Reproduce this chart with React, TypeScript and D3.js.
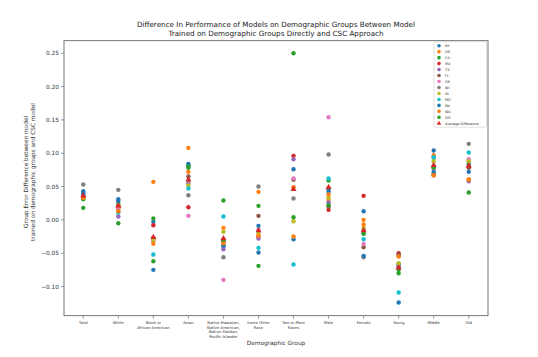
import React from "react";
import * as d3 from "d3";

const categories = [
  "Total", "White", "Black or\nAfrican American", "Asian",
  "Native Hawaiian,\nNative American,\nNative Alaskan,\nPacific Islander",
  "Some Other\nRace", "Two or More\nRaces", "Male", "Female", "Young", "Middle", "Old",
];

const seriesNames = ["NY", "OR", "CA", "MA", "TX", "FL", "OK", "WI", "IN", "MD", "NV", "WA", "OH"];
const seriesColors = ["#1f77b4", "#ff7f0e", "#2ca02c", "#d62728", "#9467bd", "#8c564b", "#e377c2", "#7f7f7f", "#bcbd22", "#17becf", "#1f77b4", "#ff7f0e", "#2ca02c"];

const NY = [0.043, 0.031, -0.003, 0.084, -0.040, -0.009, 0.076, 0.045, 0.013, -0.066, 0.104, 0.083];
const OR = [0.034, 0.016, 0.057, 0.108, -0.012, 0.042, 0.049, 0.030, 0.000, -0.054, 0.097, 0.061];
const CA = [0.031, 0.023, 0.002, 0.078, 0.029, 0.021, 0.250, 0.059, -0.021, -0.080, 0.077, 0.087];
const MA = [0.033, 0.019, -0.008, 0.019, -0.030, -0.025, 0.096, 0.015, 0.036, -0.050, 0.067, 0.079];
const TX = [0.038, 0.005, -0.030, 0.055, -0.044, -0.028, 0.091, 0.026, -0.015, -0.068, 0.080, 0.058];
const FL = [0.035, 0.020, -0.027, 0.065, -0.032, 0.006, 0.060, 0.020, -0.041, -0.052, 0.069, 0.078];
const OK = [0.036, 0.018, -0.033, 0.006, -0.090, -0.015, 0.062, 0.154, -0.036, -0.072, 0.078, 0.091];
const WI = [0.053, 0.045, -0.028, 0.037, -0.056, 0.050, 0.032, 0.098, -0.056, -0.070, 0.093, 0.114];
const IN = [0.033, 0.022, -0.030, 0.052, -0.018, -0.020, -0.002, 0.033, -0.012, -0.065, 0.088, 0.088];
const MD = [0.035, 0.011, -0.052, 0.047, 0.005, -0.042, -0.067, 0.062, -0.029, -0.109, 0.094, 0.101];
const NV = [0.040, 0.028, -0.075, 0.082, -0.038, -0.049, -0.029, 0.042, -0.054, -0.124, 0.072, 0.072];
const WA = [0.034, 0.013, -0.036, 0.072, -0.035, -0.024, -0.025, 0.038, -0.007, -0.055, 0.067, 0.060];
const OH = [0.018, -0.005, -0.062, 0.080, -0.030, -0.069, 0.004, 0.022, -0.020, -0.075, 0.079, 0.041];
const averageDifference = [0.036, 0.021, -0.026, 0.060, -0.028, -0.016, 0.046, 0.049, -0.016, -0.072, 0.082, 0.081];

const seriesValues = [NY, OR, CA, MA, TX, FL, OK, WI, IN, MD, NV, WA, OH];
const yTicks = [-0.10, -0.05, 0.0, 0.05, 0.10, 0.15, 0.20, 0.25];

const W = 538, H = 357;
const M = { left: 64, right: 488, top: 40.7, bottom: 315.7 };
const FONT = "DejaVu Sans, sans-serif";

export default function App() {
  const x = d3.scaleLinear().domain([-0.55, 11.55]).range([M.left, M.right]);
  const y = d3.scaleLinear().domain([-0.14375, 0.26875]).range([M.bottom, M.top]);
  const r = 2.2;
  const tri = d3.symbol().type(d3.symbolTriangle).size(16)();
  const triSmall = d3.symbol().type(d3.symbolTriangle).size(9)();
  const fmt = d3.format(".2f");
  const legendRows = [...seriesNames.map((n, i) => ({ n, c: seriesColors[i], t: false })), { n: "Average Difference", c: "#d62728", t: true }];

  return (
    <svg width={W} height={H} style={{ position: "absolute", left: 0, top: 0, background: "#fff" }} fontFamily={FONT}>
      <rect width={W} height={H} fill="#fff" />
      <text x={(M.left + M.right) / 2} y={27} textAnchor="middle" fontSize={7.2} fill="#222">
        Difference In Performance of Models on Demographic Groups Between Model
      </text>
      <text x={(M.left + M.right) / 2} y={35.5} textAnchor="middle" fontSize={7.2} fill="#222">
        Trained on Demographic Groups Directly and CSC Approach
      </text>

      {/* y ticks */}
      {yTicks.map((t) => (
        <g key={t}>
          <line x1={M.left - 3} x2={M.left} y1={y(t)} y2={y(t)} stroke="#555" strokeWidth={0.6} />
          <text x={M.left - 5} y={y(t)} dy="0.35em" textAnchor="end" fontSize={5.8} fill="#333">
            {t < 0 ? "\u2212" + fmt(-t) : fmt(t)}
          </text>
        </g>
      ))}
      {/* x ticks */}
      {categories.map((c, i) => (
        <g key={c}>
          <line x1={x(i)} x2={x(i)} y1={M.bottom} y2={M.bottom + 3} stroke="#555" strokeWidth={0.6} />
          <text x={x(i)} y={M.bottom + 7} textAnchor="middle" fontSize={3.8} fill="#333">
            {c.split("\n").map((l, j) => (
              <tspan key={j} x={x(i)} dy={j === 0 ? "0.35em" : 4.5}>{l}</tspan>
            ))}
          </text>
        </g>
      ))}

      <text x={(M.left + M.right) / 2} y={345} textAnchor="middle" fontSize={5.8} fill="#333">Demographic Group</text>
      <g transform={`translate(30,172) rotate(-90)`}>
        <text x={0} y={-2.5} textAnchor="middle" fontSize={5.8} fill="#333">Group Error Difference between model</text>
        <text x={0} y={4.5} textAnchor="middle" fontSize={5.8} fill="#333">trained on demographic groups and CSC model</text>
      </g>

      {/* points */}
      {seriesValues.map((vals, s) => (
        <g key={s}>
          {vals.map((v, i) => (
            <circle key={i} cx={x(i)} cy={y(v)} r={r} fill={seriesColors[s]} />
          ))}
        </g>
      ))}
      {averageDifference.map((v, i) => (
        <path key={i} d={tri} transform={`translate(${x(i)},${y(v)})`} fill="#d62728" />
      ))}

      {/* frame */}
      <rect x={M.left} y={M.top} width={M.right - M.left} height={M.bottom - M.top} fill="none" stroke="#555" strokeWidth={0.8} />

      {/* legend */}
      <rect x={434} y={41.7} width={52.5} height={85.5} fill="#fff" fillOpacity={0.8} stroke="#ccc" strokeWidth={0.6} rx={1} />
      {legendRows.map((row, i) => {
        const ly = 45.7 + i * 5.97;
        return (
          <g key={i}>
            {row.t ? (
              <path d={triSmall} transform={`translate(439,${ly})`} fill={row.c} />
            ) : (
              <circle cx={439} cy={ly} r={1.8} fill={row.c} />
            )}
            <text x={445} y={ly} dy="0.35em" fontSize={3.5} fill="#333">{row.n}</text>
          </g>
        );
      })}
    </svg>
  );
}
